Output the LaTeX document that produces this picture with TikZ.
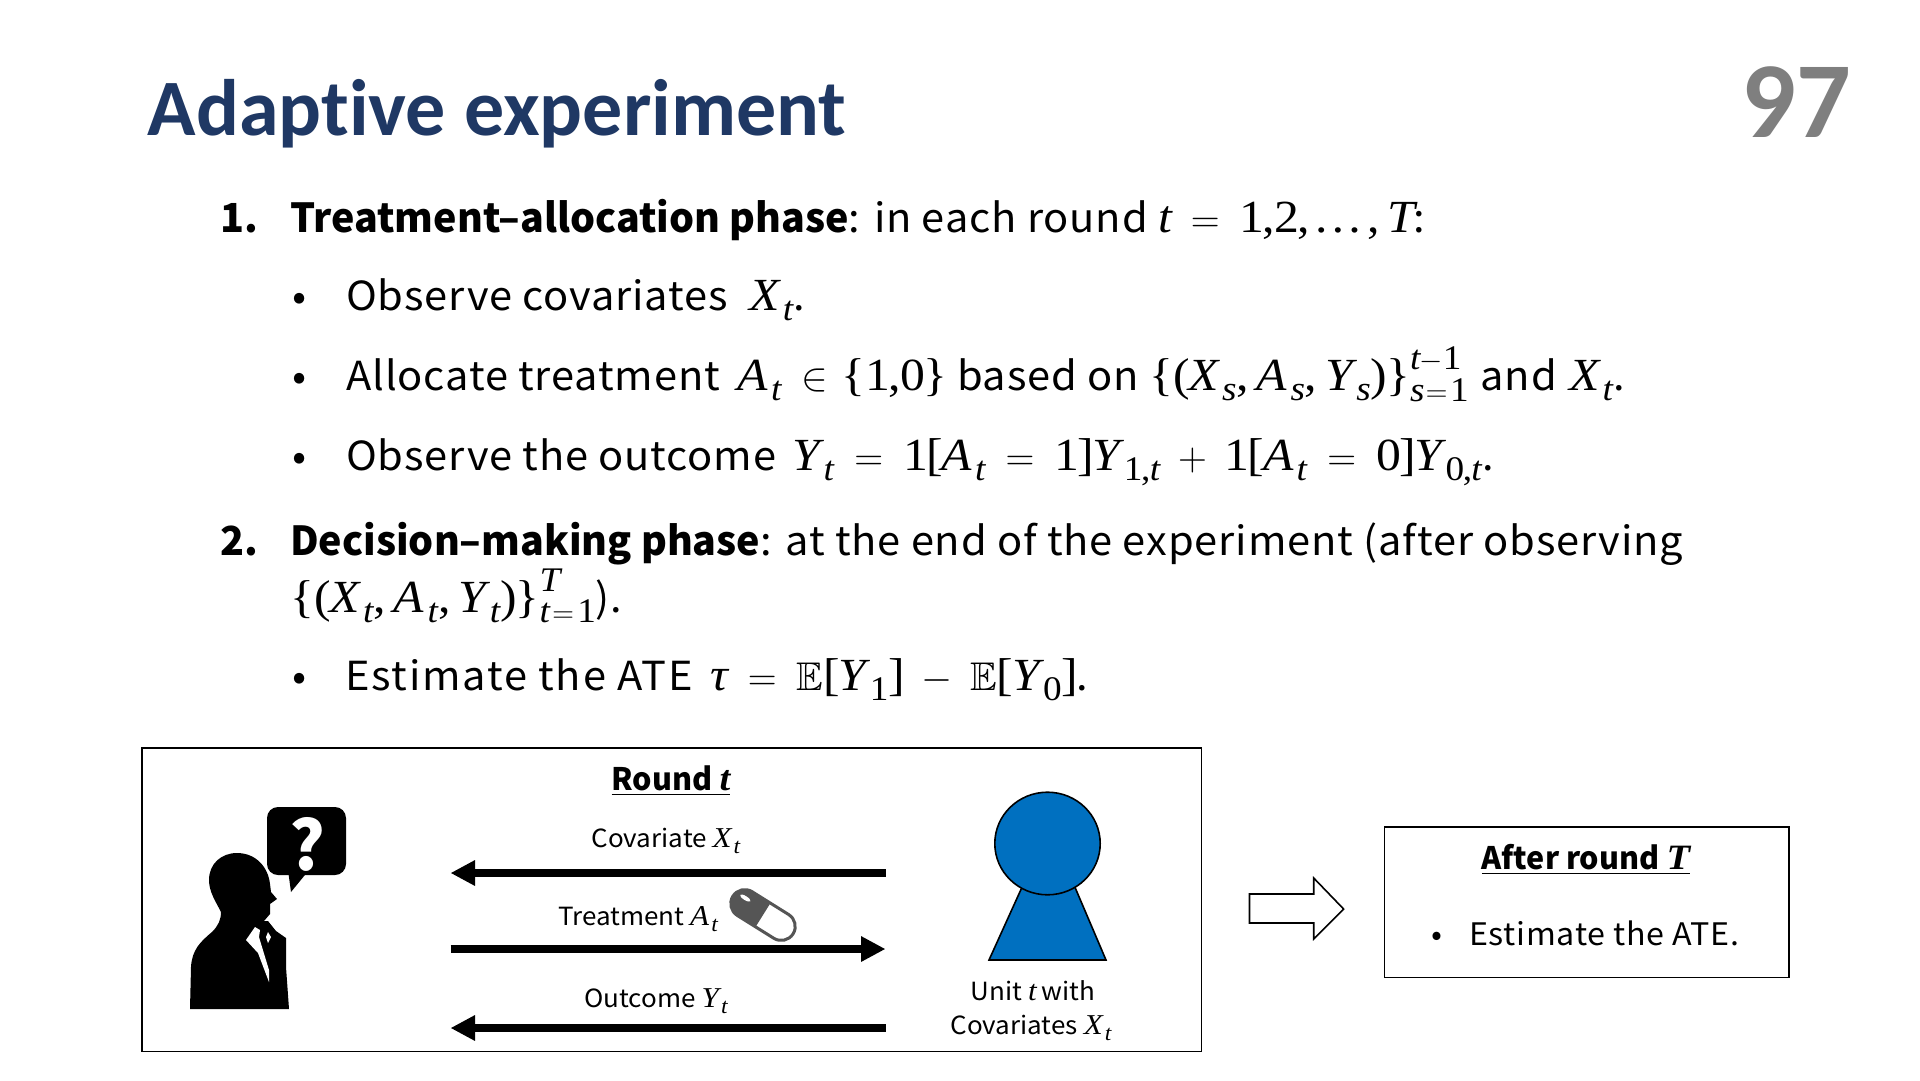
\documentclass[tikz,border=0pt]{standalone}
\usepackage{fix-cm}
\usepackage{amsmath,amssymb}
\usepackage[no-math]{fontspec}
\usetikzlibrary{arrows.meta}
\setmainfont{Noto Sans CJK JP}[FakeStretch=1.04,LetterSpace=2.2,BoldFeatures={FakeStretch=.985,LetterSpace=0}]
\newfontfamily\titlefont{Carlito}[Ligatures=NoCommon]
\newfontfamily\mfam[NFSSFamily=mfm,Scale=1.15,FakeStretch=1.08]{Liberation Serif}
\DeclareSymbolFont{mfit}{TU}{mfm}{m}{it}
\DeclareSymbolFont{mfup}{TU}{mfm}{m}{n}
\DeclareMathSizes{40}{40}{30}{24}
\DeclareMathSizes{31}{31}{23}{18}
\DeclareMathSizes{25}{25}{19}{15}
\DeclareMathSymbol{X}{\mathalpha}{mfit}{`X}
\DeclareMathSymbol{A}{\mathalpha}{mfit}{`A}
\DeclareMathSymbol{Y}{\mathalpha}{mfit}{`Y}
\DeclareMathSymbol{T}{\mathalpha}{mfit}{`T}
\DeclareMathSymbol{t}{\mathalpha}{mfit}{`t}
\DeclareMathSymbol{s}{\mathalpha}{mfit}{`s}
\DeclareMathSymbol{0}{\mathalpha}{mfup}{`0}
\DeclareMathSymbol{1}{\mathalpha}{mfup}{`1}
\DeclareMathSymbol{2}{\mathalpha}{mfup}{`2}
\DeclareMathSymbol{,}{\mathpunct}{mfup}{`,}
\DeclareMathSymbol{[}{\mathopen}{mfup}{`[}
\DeclareMathSymbol{]}{\mathclose}{mfup}{`]}
\DeclareMathSymbol{(}{\mathopen}{mfup}{`(}
\DeclareMathSymbol{)}{\mathclose}{mfup}{`)}
\newcommand{\lbr}{\mathopen{\mbox{\mfam\char`\{}}}
\newcommand{\rbr}{\mathclose{\mbox{\mfam\char`\}}}}
\newcommand{\mydots}{\mkern-2mu\mathinner{\mbox{\mfam …}}\mkern-2mu}
\newcommand{\vsub}[2]{#1\mkern2.5mu{}_{#2}}
\everymath{\fontdimen16\textfont2=.25em\fontdimen17\textfont2=.25em\fontdimen13\textfont2=.5em\fontdimen14\textfont2=.5em\fontdimen15\textfont2=.5em\relax}
\newcommand{\mathspacing}{\thickmuskip=9mu plus 2mu\medmuskip=8mu plus 2mu\thinmuskip=4mu\scriptspace=1pt}
\newcommand{\bodyfs}{\fontsize{40}{48}\selectfont\mathspacing}
\newcommand{\smallfs}{\fontsize{25}{30}\selectfont\addfontfeatures{LetterSpace=0}}
\newcommand{\headfs}{\fontsize{31}{36}\selectfont}
\definecolor{titleblue}{HTML}{1F3864}
\definecolor{pagegray}{HTML}{7F7F7F}
\definecolor{unitblue}{HTML}{0070C0}
\definecolor{pillgray}{HTML}{555555}
\tikzset{
  bodytext/.style={anchor=base west,inner sep=0pt,font=\bodyfs},
  smalltext/.style={anchor=base,inner sep=0pt,font=\smallfs},
  headtext/.style={anchor=base,inner sep=0pt,font=\headfs},
  framebox/.style={draw=black,line width=1.6pt,fill=white},
  flowarrow/.style={line width=8pt,-{Triangle[length=24.5pt,width=24pt]}},
}
\begin{document}
\begin{tikzpicture}[x=1pt,y=-1pt]
\useasboundingbox (0,0) rectangle (1920,1080);
\fill[white] (0,0) rectangle (1920,1080);
\node[anchor=base west,inner sep=0pt,text=titleblue,font=\titlefont\bfseries\fontsize{80}{90}\selectfont] (title) at (147.5,135) {Adaptive experiment};
\node[anchor=base east,inner sep=0pt,text=pagegray,font=\titlefont\bfseries\fontsize{108}{120}\selectfont] (page) at (1851,137) {97};
%
\node[bodytext] (n1) at (220,232) {\textbf{1.}};
\node[bodytext] (l1) at (290,232) {\textbf{Treatment–allocation phase}: in each round $t=1{,}2,\mydots,T$:};
\node[bodytext] (b2) at (292,310) {•};
\node[bodytext] (l2) at (346,310) {Observe covariates\hspace{11pt} $\vsub{X}{t}$.};
\node[bodytext] (b3) at (292,390) {•};
\node[bodytext] (l3) at (346,390) {Allocate treatment\hspace{7pt} $\vsub{A}{t}\in\mkern-3mu\lbr 1{,}0\rbr$ based on $\lbr(\vsub{X}{s},\vsub{A}{s},\vsub{Y}{s})\rbr_{s\mkern1.5mu=\mkern1.5mu1}^{t-1}$\hspace{2pt} and\hspace{2pt} $\vsub{X}{t}$.};
\node[bodytext] (b4) at (292,470) {•};
\node[bodytext] (l4) at (346,470) {Observe the outcome\hspace{6pt} $\vsub{Y}{t}=1[\vsub{A}{t}=1]\vsub{Y}{1,t}+1[\vsub{A}{t}=0]\vsub{Y}{0,t}$.};
\node[bodytext] (n5) at (220,555) {\textbf{2.}};
\node[bodytext] (l5) at (290,555) {\textbf{Decision–making phase}: at the end of the experiment (after observing};
\node[bodytext] (l6) at (290,612) {$\lbr(\vsub{X}{t},\vsub{A}{t},\vsub{Y}{t})\rbr_{t\mkern2mu=\mkern2mu1}^{T}$).};
\node[bodytext] (b7) at (292,690) {•};
\node[bodytext] (l7) at (345,690) {\addfontfeatures{LetterSpace=4.5}Estimate the ATE\hspace{6pt} $\mbox{\mfam\itshape τ}=\mathbb{E}[\vsub{Y}{1}]-\mathbb{E}[\vsub{Y}{0}]$.};
%
\node[framebox,anchor=north west,minimum width=1059.5pt,minimum height=303.5pt,inner sep=0pt] (round) at (141,747) {};
\node[headtext] (roundt) at (671,790) {\textbf{\underline{Round {\mfam\bfseries\itshape t}}}};
\node[smalltext] (cov) at (666,847) {Covariate $\vsub{X}{t}$};
\node[smalltext] (trt) at (638,925) {Treatment $\vsub{A}{t}$};
\node[smalltext] (out) at (656,1007) {Outcome $\vsub{Y}{t}$};
\node[smalltext] (unit1) at (1033,1000) {Unit $t$ with};
\node[smalltext] (unit2) at (1031,1034) {Covariates $\vsub{X}{t}$};
%
\coordinate (armL1) at (450.5,873); \coordinate (armR1) at (885.5,873);
\coordinate (armL2) at (450.5,949); \coordinate (armR2) at (885.5,949);
\coordinate (armL3) at (450.5,1028); \coordinate (armR3) at (885.5,1028);
\draw[flowarrow] (armR1) -- (armL1);
\draw[flowarrow] (armL2) -- (armR2);
\draw[flowarrow] (armR3) -- (armL3);
%
% person
\fill[black] (190,1009) -- (191,967) .. controls (192,950) and (200,942) .. (212,932) .. controls (218,926) and (221,920) .. (221,912) .. controls (216,902) and (209,892) .. (209,880) .. controls (209,864) and (221,853) .. (237,853) .. controls (255,853) and (268,866) .. (270,884) -- (271,892) -- (277,899) -- (270,904) -- (270,914) -- (264,921) -- (268,921) -- (276,931) -- (286,938) -- (286,967) -- (289,1009) -- cycle;
\fill[white] (255,927) -- (246,940) -- (258,953) -- (269,982) -- (269,970) -- (262,947) -- (259,937) -- (260,930) -- cycle;
\fill[white] (268,932) -- (271,937) -- (268,943) -- (266,937) -- cycle;
% bubble
\fill[black,rounded corners=11pt] (267,807) rectangle (346,875);
\fill[black] (288,870) -- (291,892) -- (309,870) -- cycle;
\node[anchor=center,inner sep=0pt,text=white,font=\bfseries\fontsize{68}{70}\selectfont] (qm) at (307,844) {?};
% pill
\begin{scope}[shift={(763,915)},rotate=-32]
  \fill[white,rounded corners=14pt] (-35.5,-14) rectangle (35.5,14);
  \begin{scope}
    \clip (-40,-20) rectangle (0,20);
    \fill[pillgray,rounded corners=14pt] (-35.5,-14) rectangle (35.5,14);
  \end{scope}
  \draw[pillgray,line width=3pt,rounded corners=14pt] (-35.5,-14) rectangle (35.5,14);
  \fill[white] (-24,-5) ellipse (6 and 2);
\end{scope}
% unit
\draw[fill=unitblue,line width=1.6pt] (1023,885) -- (989,960) -- (1106,960) -- (1074,885) -- cycle;
\draw[fill=unitblue,line width=1.6pt] (1047.5,843.5) ellipse (52.7 and 51.3);
% block arrow
\draw[fill=white,line width=1.6pt] (1249.5,894) -- (1313.7,894) -- (1313.7,878) -- (1343.6,909) -- (1313.7,939) -- (1313.7,923) -- (1249.5,923) -- cycle;
%
\node[framebox,anchor=north west,minimum width=404.5pt,minimum height=150.5pt,inner sep=0pt] (after) at (1383.5,826) {};
\node[headtext] (aftert) at (1586,869) {\textbf{\underline{After round {\mfam\bfseries\itshape T}}}};
\node[anchor=base west,inner sep=0pt,font=\headfs] (ab) at (1431,945) {•};
\node[anchor=base west,inner sep=0pt,font=\headfs] (ae) at (1469,945) {Estimate the ATE.};
\end{tikzpicture}
\end{document}
